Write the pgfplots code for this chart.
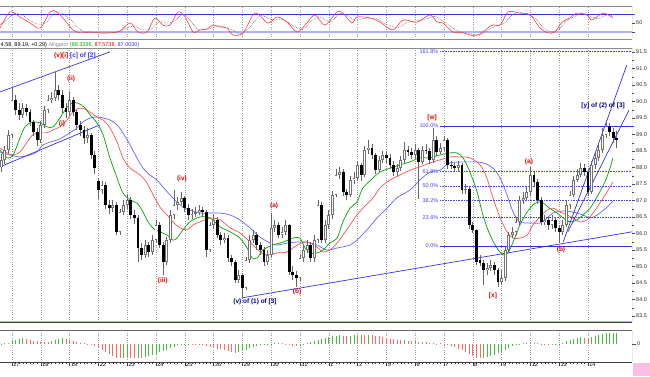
\documentclass[border=0pt]{standalone}
\usepackage{fontspec}
\setmainfont{Liberation Sans}
\usepackage{pgfplots}
\pgfplotsset{compat=1.18}
\usepackage{pgfplotstable}
\definecolor{mablue}{RGB}{100,100,255}
\definecolor{magreen}{RGB}{0,165,0}
\definecolor{mared}{RGB}{255,80,80}
\definecolor{tlblue}{RGB}{50,50,230}
\definecolor{fibblue}{RGB}{70,70,230}
\definecolor{lav}{RGB}{175,175,255}
\definecolor{navy}{RGB}{0,0,140}
\definecolor{wred}{RGB}{230,0,0}
\definecolor{hgreen}{RGB}{70,190,70}
\definecolor{hred}{RGB}{255,105,105}
\definecolor{stred}{RGB}{255,60,60}
\newcommand\tk{\fontsize{5.5}{6}\selectfont}
\newcommand\lb{\fontsize{6.5}{7}\selectfont\bfseries}

\pgfplotstableread{
j o h l c
-3 88.00 88.40 87.85 88.23
-2 88.23 88.65 88.10 88.53
-1 88.53 89.15 88.45 88.99
0 88.99 90.44 88.90 90.05
1 90.05 90.20 89.60 89.74
2 89.74 89.95 89.45 89.59
3 89.59 89.95 89.50 89.80
4 89.80 89.92 89.55 89.68
5 89.68 89.78 89.25 89.38
6 89.38 89.45 88.95 89.08
7 89.08 89.20 88.65 88.83
8 88.83 89.40 88.75 89.29
9 89.29 89.85 89.20 89.74
10 89.74 90.20 89.65 90.05
11 90.05 90.30 89.95 90.11
12 90.11 90.89 90.00 90.35
13 90.35 90.50 90.05 90.20
14 90.20 90.35 89.65 89.80
15 89.80 89.95 89.50 89.68
16 89.68 90.30 89.60 90.05
17 90.05 90.15 89.55 89.68
18 89.68 89.75 89.15 89.29
19 89.29 89.40 88.95 89.14
20 89.14 89.25 88.70 88.89
21 88.89 89.20 88.75 88.99
22 88.99 89.05 88.25 88.38
23 88.38 88.50 87.80 87.98
24 87.60 87.68 87.05 87.32
25 87.32 87.60 87.20 87.47
26 87.47 87.55 86.75 86.86
27 86.86 87.00 86.60 86.77
28 86.77 87.00 86.65 86.86
29 86.86 86.95 85.95 86.05
30 86.05 86.75 85.95 86.65
31 86.65 87.00 86.55 86.86
32 86.86 87.20 86.75 87.02
33 87.02 87.10 86.45 86.56
34 86.56 86.70 86.30 86.47
35 86.47 86.55 85.14 85.56
36 85.56 85.70 85.20 85.35
37 85.35 85.80 85.25 85.65
38 85.65 85.75 85.30 85.44
39 85.44 85.95 85.35 85.80
40 85.80 86.40 85.70 86.26
41 86.26 86.35 85.55 85.65
42 85.65 85.75 84.74 85.14
43 85.14 85.90 85.05 85.80
44 85.80 86.70 85.70 86.56
45 86.56 87.32 86.45 86.86
46 86.86 87.10 86.70 86.95
47 86.95 87.25 86.85 87.08
48 87.08 87.15 86.65 86.77
49 86.77 86.90 86.40 86.56
50 86.56 86.75 86.45 86.60
51 86.60 86.80 86.50 86.65
52 86.65 86.85 86.55 86.71
53 86.71 86.80 86.50 86.65
54 86.65 86.70 85.29 85.50
55 85.50 86.35 85.45 86.26
56 86.26 86.55 86.15 86.41
57 86.41 86.50 85.85 85.95
58 85.95 86.05 85.65 85.80
59 85.80 86.00 85.70 85.86
60 85.86 85.95 85.15 85.26
61 85.26 85.35 85.00 85.14
62 85.14 85.20 84.50 84.59
63 84.59 84.90 84.50 84.74
64 84.74 84.80 84.08 84.35
65 84.35 85.30 84.30 85.20
66 85.20 85.95 85.10 85.80
67 85.80 86.10 85.70 85.95
68 85.95 86.05 85.50 85.65
69 85.65 85.75 85.35 85.50
70 85.50 85.60 85.00 85.14
71 85.14 85.50 85.05 85.35
72 85.35 86.62 85.30 86.17
73 86.17 86.40 86.05 86.26
74 86.26 86.35 85.85 85.95
75 85.95 86.20 85.85 86.05
76 86.05 86.40 85.95 86.26
77 86.26 86.30 84.75 84.83
78 84.83 85.00 84.60 84.74
79 84.74 84.85 84.38 84.65
80 84.65 85.35 84.55 85.26
81 85.26 85.65 85.15 85.50
82 85.50 85.80 85.40 85.65
83 85.65 85.75 85.15 85.26
84 85.26 85.95 85.15 85.80
85 85.80 87.00 85.70 86.86
86 86.86 86.95 85.70 85.80
87 85.80 86.40 85.70 86.26
88 86.26 86.70 86.15 86.56
89 86.56 87.30 86.45 87.17
90 87.17 87.95 87.10 87.77
91 87.77 88.00 87.65 87.86
92 87.86 87.95 87.15 87.26
93 87.26 87.35 87.00 87.17
94 87.17 87.75 87.10 87.62
95 87.62 87.85 87.50 87.68
96 87.68 88.20 87.60 88.08
97 88.08 88.15 87.60 87.77
98 87.77 88.65 87.70 88.53
99 88.53 88.83 88.40 88.60
100 88.60 88.70 88.25 88.38
101 88.38 88.45 87.80 87.92
102 87.92 88.35 87.85 88.23
103 88.23 88.50 88.15 88.38
104 88.38 88.50 88.15 88.29
105 88.29 88.40 87.95 88.08
106 88.08 88.20 87.75 87.86
107 87.86 88.10 87.75 87.98
108 87.98 88.35 87.90 88.23
109 88.23 88.77 88.15 88.53
110 88.53 88.65 88.35 88.47
111 88.47 88.60 88.25 88.38
112 88.38 88.70 88.30 88.53
113 88.53 88.60 87.05 88.17
114 88.17 88.65 88.10 88.53
115 88.53 88.70 88.40 88.50
116 88.50 88.60 88.10 88.23
117 88.23 89.20 88.15 88.83
118 88.83 88.95 88.35 88.47
119 88.47 88.75 88.40 88.59
120 88.59 88.95 88.50 88.83
121 88.83 88.90 87.95 88.08
122 88.08 88.20 87.95 88.05
123 88.05 88.15 87.85 87.98
124 87.98 88.20 87.90 88.08
125 88.08 88.15 87.20 87.32
126 87.32 87.50 87.20 87.35
127 87.35 87.40 86.15 86.26
128 86.26 86.35 86.00 86.11
129 86.11 86.15 85.05 85.14
130 85.20 85.35 85.00 85.10
131 85.10 85.20 84.44 84.89
132 84.89 85.10 84.75 84.95
133 84.95 85.20 84.85 85.05
134 85.05 85.15 84.75 84.89
135 84.89 84.95 84.38 84.53
136 84.53 84.90 84.45 84.65
137 84.65 85.60 84.55 85.50
138 85.50 86.05 85.40 85.95
139 85.95 86.20 85.85 86.05
140 86.05 86.50 85.95 86.35
141 86.35 87.15 86.25 87.02
142 87.02 87.25 86.90 87.08
143 87.08 87.40 87.00 87.26
144 87.26 88.00 87.15 87.77
145 87.77 87.85 87.45 87.56
146 87.56 87.65 86.90 87.02
147 87.02 87.10 86.25 86.35
148 86.35 86.55 86.25 86.41
149 86.41 86.50 86.10 86.26
150 86.26 86.55 86.15 86.41
151 86.41 86.50 86.05 86.17
152 86.17 86.25 85.71 86.05
153 86.05 86.40 85.95 86.26
154 86.26 87.00 86.20 86.86
155 86.86 87.30 86.75 87.17
156 87.17 87.75 87.10 87.62
157 87.62 87.95 87.55 87.77
158 87.77 88.15 87.70 87.98
159 87.98 88.10 87.75 87.86
160 87.86 87.95 87.15 87.26
161 87.26 88.20 87.20 88.08
162 88.08 88.45 87.95 88.29
163 88.29 88.70 88.20 88.53
164 88.53 89.20 88.45 88.99
165 88.99 89.44 88.90 89.26
166 89.26 89.35 88.95 89.08
167 89.08 89.20 88.75 88.89
168 88.89 89.10 88.60 88.83
}\candles

\begin{document}
\begin{tikzpicture}
\useasboundingbox (0pt,0pt) rectangle (650pt,376pt);
\pgfplotsset{
  panel/.style={
    scale only axis, width=632pt, xmin=-3.3333, xmax=172.2222,
    axis line style={draw=none},
    xtick={0,8,...,160}, xmajorgrids,
    major x grid style={black!40, dotted, line width=0.35pt},
    ytick pos=right, yticklabel pos=right, tick align=outside,
    ytick style={black!70, line width=0.4pt},
    major tick length=3pt, minor tick length=1.5pt,
    yticklabel style={font=\tk, text=black!80, inner sep=1pt,
      /pgf/number format/assume math mode=true},
    anchor=south west,
  }
}
% ---------- stochastic panel ----------
\begin{axis}[panel, at={(0pt,337pt)}, height=33pt, ymin=-3.3, ymax=106.7,
  xmajorticks=false, ytick={20,50,80}, yticklabels={,50,}]
\addplot[tlblue, line width=0.8pt] coordinates {(-3.3333,80) (172.2222,80)};
\addplot[lav, line width=1.3pt] coordinates {(-3.3333,20) (172.2222,20)};
\addplot[black!60, densely dotted, line width=0.6pt, smooth] coordinates {
(-3.3,45) (-1.5,60) (0.9,83) (3.7,70) (6.5,48) (9.3,50) (11.5,80) (14,82) (16.8,55) (18.5,32) (20.4,20) (23,18) (26,17) (28.7,19) (31.5,30) (34,40) (36,28) (38.7,30) (41,55) (43,50) (45,55) (47.5,80) (49.5,58) (51.5,30) (53.5,27) (55.5,33) (57.5,40) (59.5,35) (61.5,25) (63.5,14) (66,35) (69,75) (72.3,60) (75,63) (78,42) (80.7,28) (83,55) (85.5,70) (88.5,55) (91,82) (93,75) (95.5,58) (97.5,65) (101,65) (103.7,47) (107.2,35) (110,53) (114,60) (117.5,72) (119.5,58) (121,45) (124,22) (127,15) (130,10) (132,25) (134.5,40) (136.8,50) (139.5,82) (142.5,82) (145.3,65) (148,30) (150,20) (152,30) (154,57) (156.3,72) (158.3,82) (160.5,72) (162.7,65) (165.5,78) (166.9,72)};
\addplot[stred, line width=0.6pt, smooth] coordinates {
(-3.3,33) (-0.6,87) (2.2,70) (5,50) (7.8,33) (10.6,87) (12.5,87) (15.3,50) (16.9,27) (18.9,17) (21.7,20) (24.4,17) (27.2,17) (30,23) (32.8,50) (35,20) (37.5,20) (39.7,67) (41.9,43) (43.9,43) (46.1,87) (48.1,70) (50.3,20) (52.2,27) (54.2,30) (55.8,43) (57.8,37) (59.7,33) (61.4,10) (64.2,17) (67.5,83) (71.1,50) (73.6,70) (76.4,53) (79.2,20) (81.9,50) (84.2,77) (86.9,43) (90.3,87) (91.9,83) (94.4,50) (95.8,70) (99.4,67) (102.2,53) (105.8,27) (108.6,60) (112.5,53) (116.1,77) (118.1,53) (119.7,50) (122.5,20) (125.3,17) (128.6,7) (130.8,20) (133.3,43) (135.6,43) (137.8,87) (141.1,83) (143.9,77) (146.7,33) (148.9,17) (150.8,20) (152.8,53) (155,67) (156.9,83) (159.7,77) (161.1,60) (164.2,83) (166.9,67)};
\draw[black!45, line width=0.8pt] (rel axis cs:0,1) -- (rel axis cs:1,1);
\draw[black!45, line width=0.8pt] (rel axis cs:0,0) -- (rel axis cs:1,0);
\draw[black!70, line width=0.5pt] (rel axis cs:1,0) -- (rel axis cs:1,1);
\end{axis}

% header text
\node[anchor=west, font=\tk, inner sep=0pt] at (0.5pt,331pt)
  {4.58, 89.19, +0.29) \textcolor{black!45}{Alligator} \textcolor{magreen}{(89.3395,} \textcolor{wred}{87.5738,} \textcolor{tlblue}{87.0030)}};

% ---------- main price panel ----------
\begin{axis}[panel, at={(0pt,54pt)}, height=274pt, ymin=83.318, ymax=91.62,
  xmajorticks=false,
  ytick={83.5,84,84.5,85,85.5,86,86.5,87,87.5,88,88.5,89,89.5,90,90.5,91,91.5},
  minor y tick num=1,
  yticklabel style={/pgf/number format/.cd, fixed, fixed zerofill, precision=1}]
% alligator lines
\addplot[mablue, line width=0.7pt, smooth] coordinates {
(-3.3,88.47) (-0.6,88.38) (2.2,88.32) (5.0,88.38) (6.9,88.47) (8.6,88.68) (10.6,88.77) (12.5,88.83) (14.2,88.92) (16.1,89.05) (18.1,89.20) (19.7,89.38) (21.7,89.50) (23.6,89.53) (25.3,89.50) (27.2,89.44) (29.2,89.29) (30.8,89.05) (32.8,88.68) (34.7,88.29) (36.4,87.98) (38.3,87.77) (40.3,87.62) (41.9,87.41) (43.9,87.17) (45.8,86.95) (47.5,86.80) (49.4,86.71) (52.2,86.62) (55.0,86.62) (57.8,86.62) (60.6,86.56) (63.3,86.41) (66.1,86.17) (68.9,85.89) (71.7,85.71) (73.6,85.65) (76.4,85.71) (79.2,85.74) (81.9,85.74) (84.7,85.65) (87.5,85.50) (90.3,85.56) (93.9,85.65) (95.8,85.80) (98.6,86.11) (101.4,86.47) (104.2,86.77) (106.9,87.08) (110.6,87.32) (113.3,87.62) (116.1,87.86) (118.9,87.92) (121.7,88.14) (127.2,88.17) (130.8,88.14) (133.6,87.98) (135.6,87.68) (137.5,87.17) (139.2,86.65) (141.1,86.35) (143.9,86.32) (146.7,86.32) (148.6,86.47) (150.3,86.62) (153.1,86.68) (155.8,86.65) (158.6,86.56) (160.6,86.47) (162.5,86.56) (165.3,86.80) (166.9,86.98)};
\addplot[mared, line width=0.7pt, smooth] coordinates {
(-3.3,88.59) (-1.4,88.44) (0.3,88.38) (2.2,88.47) (4.2,88.77) (5.8,88.99) (7.8,89.05) (9.7,89.05) (11.4,89.14) (13.3,89.23) (15.3,89.44) (16.9,89.68) (18.9,89.80) (20.8,89.74) (23.6,89.53) (25.3,89.44) (27.2,89.20) (29.2,88.77) (30.8,88.29) (32.8,87.98) (35.6,87.77) (37.5,87.53) (39.2,87.17) (41.1,86.80) (43.1,86.56) (44.7,86.35) (46.7,86.17) (48.6,86.11) (50.3,86.26) (52.2,86.35) (55.0,86.47) (57.8,86.41) (60.6,86.17) (63.3,86.02) (66.1,85.74) (68.9,85.44) (70.8,85.35) (73.6,85.41) (76.4,85.44) (79.2,85.65) (81.9,85.74) (84.7,85.59) (86.4,85.44) (88.3,85.50) (90.3,85.71) (91.9,85.95) (93.9,86.26) (95.8,86.56) (97.5,86.77) (100.3,87.08) (102.2,87.38) (105.0,87.62) (107.8,87.77) (110.6,87.92) (113.3,88.02) (116.1,88.14) (118.9,88.23) (121.7,88.32) (124.4,88.32) (127.2,88.29) (130.0,88.08) (131.9,87.68) (133.6,87.08) (135.6,86.47) (137.5,86.05) (139.2,85.86) (141.1,85.86) (143.1,85.95) (144.7,86.26) (146.7,86.50) (148.6,86.71) (150.3,86.77) (152.2,86.65) (154.2,86.56) (155.8,86.47) (157.8,86.35) (159.7,86.41) (161.4,86.62) (163.3,86.92) (165.3,87.26) (166.9,87.56)};
\addplot[magreen, line width=0.7pt, smooth] coordinates {
(-3.3,88.53) (-1.4,88.29) (0.3,88.38) (2.2,88.89) (3.6,89.23) (5.6,89.38) (7.8,89.35) (9.7,89.23) (11.4,89.23) (13.3,89.50) (15.3,89.83) (16.7,89.95) (18.3,89.95) (20.3,89.80) (21.7,89.59) (23.6,89.35) (25.3,88.99) (27.2,88.29) (29.2,87.68) (30.8,87.23) (32.8,87.02) (34.7,86.92) (36.1,86.71) (37.8,86.35) (39.7,86.11) (41.1,86.05) (43.1,85.95) (44.7,85.80) (45.8,85.86) (47.5,86.11) (49.4,86.35) (52.2,86.50) (55.0,86.47) (57.8,86.20) (60.6,86.05) (63.3,85.86) (65.3,85.56) (66.7,85.26) (68.1,85.26) (69.7,85.50) (72.5,85.65) (75.3,85.74) (78.1,85.86) (80.0,85.86) (81.4,85.56) (82.8,85.41) (84.7,85.41) (86.4,85.50) (88.3,85.71) (90.3,85.86) (91.9,86.35) (93.9,86.77) (95.8,86.95) (97.5,87.38) (100.3,87.68) (102.2,87.86) (105.0,87.98) (107.8,88.08) (110.6,88.17) (113.3,88.29) (116.1,88.29) (118.9,88.38) (121.7,88.44) (123.6,88.44) (125.3,88.29) (127.2,87.86) (129.2,87.26) (130.8,86.56) (132.8,85.95) (134.7,85.56) (136.4,85.35) (137.8,85.41) (139.2,85.74) (141.1,86.26) (143.1,86.65) (145.3,86.92) (147.2,86.95) (148.9,86.80) (151.4,86.62) (153.1,86.47) (155.0,86.35) (156.9,86.41) (158.6,86.56) (160.6,86.77) (162.5,87.11) (164.7,87.56) (166.1,87.98) (166.9,88.29)};
% fibonacci levels
\addplot[fibblue, densely dotted, line width=0.6pt] coordinates {(118.9,91.51) (172.2222,91.51)};
\addplot[fibblue, densely dotted, line width=0.6pt] coordinates {(118.9,87.87) (172.2222,87.87)};
\addplot[fibblue, densely dotted, line width=0.6pt] coordinates {(118.9,87.44) (172.2222,87.44)};
\addplot[fibblue, densely dotted, line width=0.6pt] coordinates {(118.9,87.01) (172.2222,87.01)};
\addplot[fibblue, densely dotted, line width=0.6pt] coordinates {(118.9,86.48) (172.2222,86.48)};
\addplot[tlblue, line width=0.7pt] coordinates {(118.9,89.26) (172.2222,89.26)};
\addplot[tlblue, line width=0.7pt] coordinates {(118.9,85.62) (172.2222,85.62)};
% trend lines
\addplot[tlblue, line width=0.7pt] coordinates {(-3.3333,90.29) (27.2,91.50)};
\addplot[tlblue, line width=0.7pt] coordinates {(-3.3333,88.02) (24.4,89.29)};
\addplot[tlblue, line width=0.7pt] coordinates {(63.9,84.05) (172.2222,86.05)};
\addplot[tlblue, line width=0.7pt] coordinates {(153.1,85.74) (170.8,91.11)};
\addplot[tlblue, line width=0.7pt] coordinates {(154.4,86.05) (171.4,89.74)};
% candles: wicks
\addplot[black!60, line width=0.7pt, mark=none, quiver={u=0, v={\thisrow{h}-\thisrow{l}}}]
  table[x=j, y=l] {\candles};
% up bodies (hollow)
\addplot[black!55, line width=2.7pt, mark=none, quiver={u=0, v={\thisrow{c}-\thisrow{o}}},
  restrict expr to domain={\thisrow{c}-\thisrow{o}}{0:20}]
  table[x=j, y=o] {\candles};
\addplot[white, line width=1.3pt, mark=none, quiver={u=0, v={max(\thisrow{c}-\thisrow{o}-0.05,0)}},
  restrict expr to domain={\thisrow{c}-\thisrow{o}}{0:20}]
  table[x=j, y expr=\thisrow{o}+0.025] {\candles};
% down bodies
\addplot[black, line width=2.7pt, mark=none, quiver={u=0, v={\thisrow{o}-\thisrow{c}}},
  restrict expr to domain={\thisrow{o}-\thisrow{c}}{0.0001:20}]
  table[x=j, y=c] {\candles};
% fib labels
\begin{scope}[every node/.style={font=\tk, text=fibblue, anchor=east, inner sep=0.5pt}]
\node at (axis cs:118.6,91.51) {161.8\%};
\node at (axis cs:118.6,89.26) {100.0\%};
\node at (axis cs:118.6,87.87) {61.8\%};
\node at (axis cs:118.6,87.44) {50.0\%};
\node at (axis cs:118.6,87.01) {38.2\%};
\node at (axis cs:118.6,86.48) {23.6\%};
\node at (axis cs:118.6,85.62) {0.0\%};
\end{scope}
% wave labels
\begin{scope}[every node/.style={font=\lb, inner sep=0pt}]
\node at (axis cs:17.5,91.38) {\textcolor{wred}{(v)[i]} \textcolor{tlblue}{[c] of [2]}};
\node[text=wred] at (axis cs:16.4,90.68) {(ii)};
\node[text=wred] at (axis cs:13.9,89.32) {(i)};
\node[text=wred] at (axis cs:41.9,84.56) {(iii)};
\node[text=wred] at (axis cs:47.2,87.65) {(iv)};
\node[text=navy] at (axis cs:67.5,83.93) {(v) of (1) of [3]};
\node[text=wred] at (axis cs:72.8,86.83) {(a)};
\node[text=wred] at (axis cs:79.2,84.23) {(b)};
\node[text=wred] at (axis cs:116.7,89.50) {[w]};
\node[text=wred] at (axis cs:133.6,84.11) {[x]};
\node[text=wred] at (axis cs:143.6,88.17) {(a)};
\node[text=wred] at (axis cs:152.5,85.50) {(b)};
\node[text=navy] at (axis cs:164.2,89.86) {[y] of (2) of [3]};
\end{scope}
\draw[black!45, line width=0.8pt] (rel axis cs:0,1) -- (rel axis cs:1,1);
\draw[lav, line width=0.8pt] ([yshift=0.6pt]rel axis cs:0,0) -- ([yshift=0.6pt]rel axis cs:1,0);
\draw[black!75, line width=1.3pt] ([yshift=-0.8pt]rel axis cs:0,0) -- ([yshift=-0.8pt]rel axis cs:1,0);
\draw[black!70, line width=0.5pt] (rel axis cs:1,0) -- (rel axis cs:1,1);
\end{axis}

% ---------- histogram panel ----------
\begin{axis}[panel, at={(0pt,14pt)}, height=32pt, ymin=-1.8, ymax=1.4,
  ytick={0}, minor x tick num=7,
  xtick pos=bottom, xtick style={black!75, line width=0.4pt},
  major tick length=4pt, minor tick length=1.8pt,
  xticklabels={17,18,19,22,23,24,25,26,29,30,31,1,2,5,6,7,8,9,12,13,14},
  xticklabel style={font=\tk, anchor=north west, inner sep=0pt, xshift=1.2pt},
  xticklabel shift=-3.6pt]
\addplot[ycomb, hgreen, line width=0.9pt, mark=none] coordinates {
(-3,0.05) (-2,0.08) (-1,0.1) (0,0.3) (1,0.45) (2,0.55) (3,0.6) (11,0.3) (12,0.45) (13,0.55) (14,0.6) (31,-1.35) (32,-1.3) (35,-1.35) (37,-1.3) (38,-1.2) (39,-1.1) (40,-0.95) (41,-0.8) (42,-0.7) (43,-0.55) (44,-0.4) (45,-0.25) (46,-0.1) (47,-0.05) (48,0.02) (49,0.05) (63,-0.8) (64,-0.7) (65,-0.55) (66,-0.4) (67,-0.3) (68,-0.2) (69,-0.1) (70,-0.05) (71,0.02) (72,0.05) (73,0.1) (74,0.12) (80,-0.15) (81,-0.05) (82,0.1) (83,0.2) (84,0.3) (85,0.4) (86,0.5) (87,0.6) (88,0.7) (89,0.8) (90,0.85) (91,0.9) (94,0.85) (95,0.9) (97,0.95) (99,0.95) (109,0.4) (112,0.3) (115,0.2) (119,0.1) (131,-1.35) (132,-1.3) (133,-1.2) (134,-1.05) (135,-0.9) (136,-0.75) (137,-0.55) (138,-0.35) (139,-0.2) (140,-0.05) (141,0.05) (142,0.1) (143,0.12) (145,0.08) (147,0.05) (149,0.03) (151,0.02) (152,0.03) (153,0.15) (154,0.3) (155,0.45) (156,0.55) (157,0.65) (158,0.7) (161,0.75) (162,0.85) (163,0.95) (164,1.05) (165,1.1) (166,1.1) (167,1.15) (168,1.1)};
\addplot[ycomb, hred, line width=0.9pt, mark=none] coordinates {
(4,0.5) (5,0.45) (6,0.35) (7,0.3) (8,0.25) (9,0.2) (10,0.2) (15,0.5) (16,0.4) (17,0.3) (18,0.2) (19,0.15) (20,0.1) (21,0.05) (22,-0.05) (23,-0.2) (24,-0.4) (25,-0.6) (26,-0.8) (27,-1.0) (28,-1.2) (29,-1.35) (30,-1.4) (33,-1.35) (34,-1.4) (36,-1.4) (50,0.03) (51,0.02) (52,0.01) (53,-0.05) (54,-0.15) (55,-0.25) (56,-0.35) (57,-0.45) (58,-0.5) (59,-0.6) (60,-0.7) (61,-0.8) (62,-0.85) (75,0.1) (76,0.05) (77,-0.05) (78,-0.15) (79,-0.2) (92,0.85) (93,0.8) (96,0.9) (98,0.9) (100,0.9) (101,0.85) (102,0.8) (103,0.7) (104,0.6) (105,0.55) (106,0.5) (107,0.45) (108,0.4) (110,0.35) (111,0.3) (113,0.25) (114,0.2) (116,0.15) (117,0.1) (118,0.05) (120,0.05) (121,-0.05) (122,-0.15) (123,-0.3) (124,-0.45) (125,-0.6) (126,-0.8) (127,-1.0) (128,-1.2) (129,-1.35) (130,-1.4) (144,0.1) (146,0.06) (148,0.04) (150,0.02) (159,0.65) (160,0.6)};
\draw[black!60, line width=0.7pt] (rel axis cs:0,1) -- (rel axis cs:1,1);
\draw[black!75, line width=0.7pt] (rel axis cs:0,0) -- (rel axis cs:1,0);
\draw[black!70, line width=0.5pt] (rel axis cs:1,0) -- (rel axis cs:1,1);
\node[anchor=west, font=\tk, inner sep=0pt] at ([xshift=1.5pt, yshift=-10pt]axis cs:88,-1.8) {April};
\end{axis}
\fill[magenta!25] (633pt,0pt) rectangle (650pt,13pt);
\end{tikzpicture}
\end{document}
